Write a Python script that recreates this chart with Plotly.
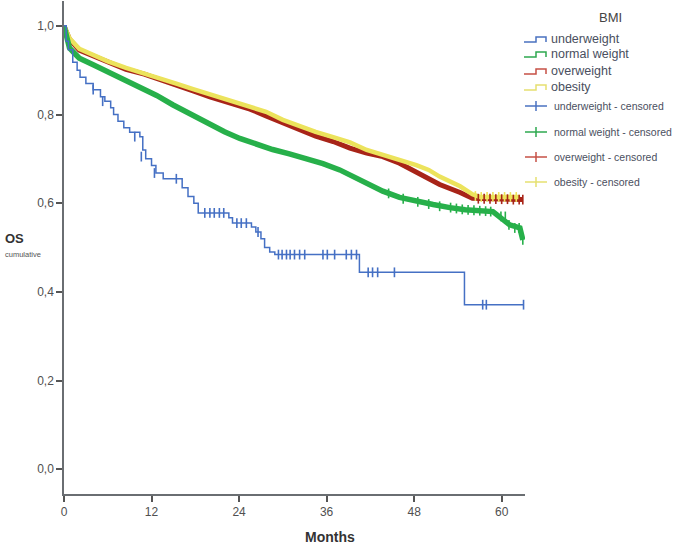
import plotly.graph_objects as go

# ---------------- data ----------------
under_t = [0, 0.3, 0.6, 1.2, 1.8, 2.2, 3.0, 4.0, 5.0, 5.6, 6.4, 6.8, 7.4, 8.2, 9.0,
           10.4, 10.8, 11.2, 12.0, 12.6, 13.6, 16.2, 17.0, 17.8, 18.4, 22.6, 23.1,
           25.7, 26.3, 27.0, 27.5, 28.2, 28.9, 40.5, 54.9, 63.0]
under_s = [1.0, 0.965, 0.946, 0.918, 0.90, 0.884, 0.87, 0.856, 0.84, 0.83, 0.815, 0.80,
           0.785, 0.77, 0.76, 0.75, 0.72, 0.70, 0.685, 0.668, 0.655, 0.635, 0.615,
           0.60, 0.578, 0.567, 0.555, 0.546, 0.535, 0.52, 0.50, 0.49, 0.484, 0.444,
           0.371, 0.371]
under_cens_t = [4.0, 5.3, 9.7, 10.6, 12.4, 15.4, 19.3, 20.0, 20.6, 21.3, 21.9, 23.7,
                24.3, 25.0, 26.6, 29.4, 29.9, 30.5, 31.0, 31.6, 32.3, 33.0, 35.5,
                36.1, 37.1, 38.7, 39.4, 40.1, 41.7, 42.3, 43.0, 45.3, 57.4, 57.9, 63.0]
under_cens_s = [0.856, 0.83, 0.75, 0.705, 0.668, 0.655, 0.578, 0.578, 0.578, 0.578,
                0.578, 0.555, 0.555, 0.555, 0.535, 0.484, 0.484, 0.484, 0.484, 0.484,
                0.484, 0.484, 0.484, 0.484, 0.484, 0.484, 0.484, 0.484, 0.444, 0.444,
                0.444, 0.444, 0.371, 0.371, 0.371]

normal_t = [0, 0.3, 0.75, 1.5, 2.1, 4.0, 6.0, 8.5, 10.4, 12.7, 14.9, 17.7, 19.5, 22.0,
            24.1, 26.3, 28.6, 30.9, 33.2, 35.5, 37.8, 39.2, 41.5, 43.7, 46.0, 48.3, 50.6,
            52.9, 55.0, 58.8, 59.7, 61.1, 62.5, 62.9]
normal_s = [1.0, 0.975, 0.95, 0.937, 0.927, 0.912, 0.896, 0.878, 0.863, 0.843, 0.822,
            0.797, 0.781, 0.761, 0.746, 0.733, 0.721, 0.711, 0.701, 0.689, 0.675, 0.664,
            0.644, 0.627, 0.613, 0.604, 0.597, 0.590, 0.585, 0.581, 0.57, 0.551,
            0.544, 0.517]
normal_cens_t = [44.5, 46.5, 48.5, 50.0, 51.5, 53.0, 53.8, 54.6, 55.4, 56.2, 57.0, 57.8,
                 58.5, 59.9, 60.5, 61.0, 61.8, 62.4, 62.9]
normal_cens_s = [0.622, 0.610, 0.603, 0.598, 0.593, 0.590, 0.588, 0.586, 0.585, 0.584,
                 0.583, 0.582, 0.581, 0.57, 0.57, 0.551, 0.544, 0.544, 0.517]

over_t = [0, 0.3, 0.75, 2.1, 4.0, 6.0, 8.5, 11.0, 13.1, 15.5, 17.7, 20.0, 23.2, 25.5,
          27.7, 30.0, 32.3, 34.5, 36.9, 39.2, 41.5, 43.7, 46.0, 48.3, 50.0, 51.5,
          54.3, 56.0, 62.9]
over_s = [1.0, 0.99, 0.97, 0.945, 0.932, 0.918, 0.902, 0.891, 0.880, 0.866, 0.853,
          0.840, 0.824, 0.812, 0.797, 0.782, 0.764, 0.751, 0.739, 0.724, 0.713, 0.705,
          0.690, 0.670, 0.654, 0.642, 0.624, 0.611, 0.608]
over_cens_t = [56.8, 57.6, 58.4, 59.2, 60.0, 60.8, 61.6, 62.4, 62.9]
over_cens_s = [0.610, 0.610, 0.610, 0.609, 0.609, 0.609, 0.608, 0.608, 0.608]

obes_t = [0, 0.3, 0.75, 2.1, 4.0, 6.0, 8.5, 11.0, 13.1, 15.5, 17.7, 20.0, 23.2, 25.5,
          27.7, 30.0, 32.3, 34.5, 36.9, 39.2, 41.5, 43.7, 46.0, 48.3, 50.0, 51.5,
          54.3, 56.0, 57.0, 62.5]
obes_s = [1.0, 0.99, 0.972, 0.948, 0.934, 0.920, 0.905, 0.893, 0.882, 0.869, 0.857,
          0.845, 0.830, 0.818, 0.806, 0.788, 0.773, 0.761, 0.749, 0.737, 0.720,
          0.709, 0.698, 0.686, 0.675, 0.66, 0.638, 0.62, 0.614, 0.614]
obes_cens_t = [56.4, 57.2, 58.0, 58.8, 59.6, 60.4, 61.2, 62.0]
obes_cens_s = [0.616, 0.614, 0.614, 0.614, 0.614, 0.614, 0.614, 0.614]

x_ticks = [0, 12, 24, 36, 48, 60]
y_ticks = [0.0, 0.2, 0.4, 0.6, 0.8, 1.0]
y_tick_text = ["0,0", "0,2", "0,4", "0,6", "0,8", "1,0"]

legend_curves = ["underweight", "normal weight", "overweight", "obesity"]
legend_censored = ["underweight - censored", "normal weight - censored",
                   "overweight - censored", "obesity - censored"]

# ---------------- styles ----------------
C_BLUE = "#4570c4"
C_GREEN = "#27b04a"
C_RED = "#a82418"
C_YELLOW = "#ece35c"
LEG_COLORS = ["#4a72c0", "#2ea84f", "#c65046", "#e6e070"]
FONT = "Liberation Sans"
TICK_COLOR = "#505050"

W, H = 687, 546
ML, MR, MT, MB = 64, 162, 1, 52
PW, PH = W - ML - MR, H - MT - MB


def xp(px):
    return (px - ML) / PW


def yp(py):
    return 1 - (py - MT) / PH


fig = go.Figure()

# main curves
fig.add_trace(go.Scatter(x=over_t, y=over_s, mode="lines", line=dict(color=C_RED, width=5),
                         showlegend=False, hoverinfo="skip"))
fig.add_trace(go.Scatter(x=obes_t, y=obes_s, mode="lines", line=dict(color=C_YELLOW, width=4.5),
                         showlegend=False, hoverinfo="skip"))
fig.add_trace(go.Scatter(x=normal_t, y=normal_s, mode="lines", line=dict(color=C_GREEN, width=5.5),
                         showlegend=False, hoverinfo="skip"))
fig.add_trace(go.Scatter(x=under_t, y=under_s, mode="lines", line=dict(color=C_BLUE, width=1.5, shape="hv"),
                         showlegend=False, hoverinfo="skip"))

# censor marks
for ct, cs, col in [(over_cens_t, over_cens_s, C_RED), (obes_cens_t, obes_cens_s, C_YELLOW),
                    (normal_cens_t, normal_cens_s, C_GREEN), (under_cens_t, under_cens_s, C_BLUE)]:
    fig.add_trace(go.Scatter(x=ct, y=cs, mode="markers",
                             marker=dict(symbol="line-ns", size=7, line=dict(color=col, width=1.6)),
                             showlegend=False, hoverinfo="skip"))

# ---------------- manual legend ----------------
shapes = []
annotations = []
annotations.append(dict(x=xp(610), y=yp(18), xref="paper", yref="paper", text="BMI",
                        showarrow=False, xanchor="center", yanchor="middle",
                        font=dict(family=FONT, size=13, color="#444")))
curve_rows = [39, 54, 71, 87]
for name, col, py in zip(legend_curves, LEG_COLORS, curve_rows):
    path = "M {} {} L {} {} L {} {} L {} {} L {} {}".format(
        xp(524), yp(py + 3), xp(536), yp(py + 3), xp(536), yp(py - 2),
        xp(546), yp(py - 2), xp(546), yp(py + 3))
    shapes.append(dict(type="path", path=path, xref="paper", yref="paper",
                       line=dict(color=col, width=1.5)))
    annotations.append(dict(x=xp(549), y=yp(py), xref="paper", yref="paper", text=name,
                            showarrow=False, xanchor="left", yanchor="middle",
                            font=dict(family=FONT, size=12.5, color="#4a4f60")))
cens_rows = [106, 132, 157, 182]
for name, col, py in zip(legend_censored, LEG_COLORS, cens_rows):
    shapes.append(dict(type="line", xref="paper", yref="paper", x0=xp(525), x1=xp(547),
                       y0=yp(py), y1=yp(py), line=dict(color=col, width=1.5)))
    shapes.append(dict(type="line", xref="paper", yref="paper", x0=xp(536), x1=xp(536),
                       y0=yp(py - 5), y1=yp(py + 5), line=dict(color=col, width=1.5)))
    annotations.append(dict(x=xp(552), y=yp(py), xref="paper", yref="paper", text=name,
                            showarrow=False, xanchor="left", yanchor="middle",
                            font=dict(family=FONT, size=10.5, color="#4a4f60")))

# axis titles
annotations.append(dict(x=xp(3), y=yp(238), xref="paper", yref="paper", text="<b>OS</b>",
                        showarrow=False, xanchor="left", yanchor="middle",
                        font=dict(family=FONT, size=13, color="#333")))
annotations.append(dict(x=xp(3), y=yp(255), xref="paper", yref="paper", text="cumulative",
                        showarrow=False, xanchor="left", yanchor="middle",
                        font=dict(family=FONT, size=7.5, color="#555")))
annotations.append(dict(x=xp(330), y=yp(537), xref="paper", yref="paper", text="<b>Months</b>",
                        showarrow=False, xanchor="center", yanchor="middle",
                        font=dict(family=FONT, size=14, color="#333")))

fig.update_layout(
    width=W, height=H,
    margin=dict(l=ML, r=MR, t=MT, b=MB, pad=0, autoexpand=False),
    paper_bgcolor="white", plot_bgcolor="white",
    shapes=shapes, annotations=annotations,
    xaxis=dict(range=[0, 63.2], tickvals=x_ticks, ticktext=[str(v) for v in x_ticks],
               automargin=False,
               showgrid=False, zeroline=False, showline=True, linecolor="#6a6e72", linewidth=1.5,
               ticks="outside", ticklen=6, tickwidth=1.5, tickcolor="#555",
               tickfont=dict(family=FONT, size=12, color=TICK_COLOR)),
    yaxis=dict(range=[-0.056, 1.056], tickvals=y_ticks, ticktext=y_tick_text,
               automargin=False,
               showgrid=False, zeroline=False, showline=True, linecolor="#6a6e72", linewidth=1.5,
               ticks="outside", ticklen=6, tickwidth=1.5, tickcolor="#555",
               tickfont=dict(family=FONT, size=12, color=TICK_COLOR)),
)

fig.write_html("out.html", config={"displayModeBar": False},
               post_script="document.body.style.margin='0';document.body.style.overflow='hidden';")
